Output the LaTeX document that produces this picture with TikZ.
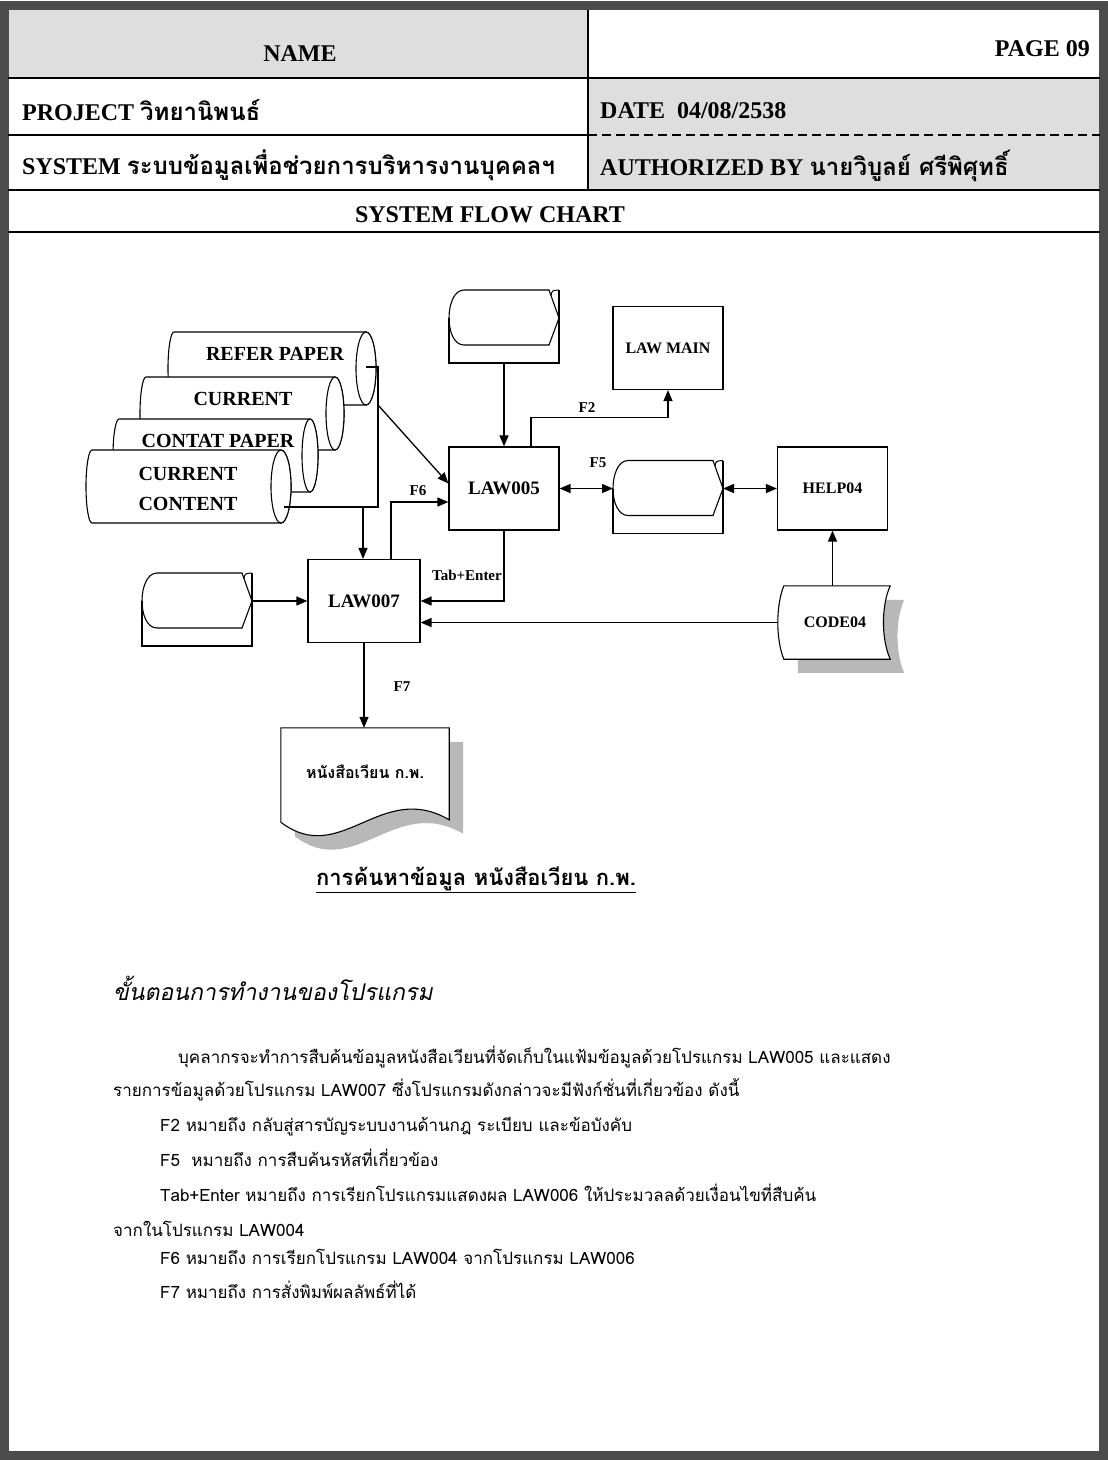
\documentclass[tikz,border=0pt]{standalone}
\usepackage{fontspec}
\setmainfont{Liberation Serif}
\newfontfamily\thaifont[Script=Thai]{Loma}
\newfontfamily\thaislant[Script=Thai,FakeSlant=0.2]{Loma}
\usetikzlibrary{arrows.meta,calc}

\newcommand{\fsz}[1]{\fontsize{#1}{#1}\selectfont}

\tikzset{
  shade/.style={fill=black!13},
  rule/.style={line width=1.8pt},
  hdr/.style={font=\bfseries\fsz{24}, inner sep=0pt},
  prog/.style={draw, line width=1.2pt, minimum width=110pt, minimum height=83pt, inner sep=0pt, font=\bfseries\fsz{19}},
  drum/.style={draw, fill=white, line width=1.1pt},
  drumtxt/.style={font=\bfseries\fsz{20}, inner sep=0pt},
  flow/.style={line width=1.3pt, -{Triangle[length=11pt,width=9pt]}},
  both/.style={line width=1.3pt, {Triangle[length=11pt,width=9pt]}-{Triangle[length=11pt,width=9pt]}},
  fkey/.style={font=\bfseries\fsz{15}, inner sep=0pt},
  para/.style={font=\thaifont\fsz{17}, anchor=base west, inner sep=0pt},
  dispstore/.pic={
    \draw[line width=1.1pt] (-55,-8.5) -- (-55,36.5) -- (55,36.5) -- (55,-36.5); % caja
    \draw[line width=1.1pt] (-40,-36.5) -- (45,-36.5) -- (55,-8.5) -- (45,18.5) -- (-40,18.5)
      .. controls (-50,18.5) and (-55,5) .. (-55,-8.5) .. controls (-55,-22) and (-50,-36.5) .. (-40,-36.5); % pantalla
    \draw[line width=1pt] (47,-31) .. controls (48,-36) .. (55,-36.5); % pestana
    \coordinate (-l) at (-55,-8.5);
    \coordinate (-r) at (55,-8.5);
    \coordinate (-n) at (0,-36.5);
    \coordinate (-s) at (0,36.5);
  }
}

\begin{document}
\begin{tikzpicture}[x=1pt,y=-1pt]
\fill[white] (0,0) rectangle (1108,1460); % hoja
\fill[shade] (8,10) rectangle (588,78); % celda NAME
\fill[shade] (588,78) rectangle (1100,190); % celdas DATE y AUTHORIZED
\draw[line width=9pt, black!70] (4.5,5) rectangle (1103.5,1455.5); % marco
\draw[rule] (8,78) -- (1100,78);
\draw[rule] (8,135) -- (588,135);
\draw[rule, dashed, dash pattern=on 9pt off 5pt] (588,135) -- (1100,135);
\draw[rule] (8,190) -- (1100,190);
\draw[rule] (8,232) -- (1100,232);
\draw[rule] (588,10) -- (588,190);
\node[hdr, anchor=base] (name) at (300,61) {NAME};
\node[hdr, anchor=base east] (page) at (1090,56) {PAGE 09};
\node[hdr, anchor=base west] (proj) at (22,120) {PROJECT {\thaifont วิทยานิพนธ์}};
\node[hdr, anchor=base west] (date) at (600,118) {DATE\ \ 04/08/2538};
\node[hdr, anchor=base west] (sys) at (22,174) {SYSTEM {\thaifont ระบบข้อมูลเพื่อช่วยการบริหารงานบุคคลฯ}};
\node[hdr, anchor=base west] (auth) at (600,175) {AUTHORIZED BY {\thaifont นายวิบูลย์ ศรีพิศุทธิ์}};
\node[hdr, anchor=base] (sfc) at (490,222) {SYSTEM FLOW CHART};

% cilindros (de atras hacia adelante)
\filldraw[drum] (366,332) -- (174,332) arc[start angle=270, end angle=90, x radius=6, y radius=36.5] -- (366,405) arc[start angle=90, end angle=-90, x radius=10, y radius=36.5] -- cycle;
\draw[drum] (366,368.5) ellipse[x radius=10, y radius=36.5];
\node[drumtxt] (refer) at (275,354) {REFER PAPER};
\filldraw[drum] (335,377) -- (146,377) arc[start angle=270, end angle=90, x radius=6, y radius=36.5] -- (335,450) arc[start angle=90, end angle=-90, x radius=9, y radius=36.5] -- cycle;
\draw[drum] (335,413.5) ellipse[x radius=9, y radius=36.5];
\node[drumtxt] (curr) at (243,399) {CURRENT};
\filldraw[drum] (310,419) -- (119,419) arc[start angle=270, end angle=90, x radius=6, y radius=36.5] -- (310,492) arc[start angle=90, end angle=-90, x radius=8, y radius=36.5] -- cycle;
\draw[drum] (310,455.5) ellipse[x radius=8, y radius=36.5];
\node[drumtxt] (contat) at (218,441) {CONTAT PAPER};
\filldraw[drum] (281,450) -- (92,450) arc[start angle=270, end angle=90, x radius=6, y radius=36.5] -- (281,523) arc[start angle=90, end angle=-90, x radius=10, y radius=36.5] -- cycle;
\draw[drum] (281,486.5) ellipse[x radius=10, y radius=36.5];
\node[drumtxt, align=center] (ccont) at (188,489) {CURRENT\\[10pt]CONTENT};

% procesos
\node[prog] (law5) at (504,488.5) {LAW005};
\node[prog, font=\bfseries\fsz{16}] (lawmain) at (668,348) {LAW MAIN};
\node[prog, font=\bfseries\fsz{16}] (help) at (832.5,488.5) {HELP04};
\node[prog, minimum width=112pt] (law7) at (364,601) {LAW007};
\pic (dtop) at (504,326.5) {dispstore};
\pic (dmid) at (668,497) {dispstore};
\pic (dleft) at (197,609.5) {dispstore};

% CODE04
\node[minimum width=110pt, minimum height=73pt, inner sep=0pt, font=\bfseries\fsz{16}] (code) at (835,622.5) {CODE04};
\fill[black!28] ($(code.north west)+(18,14)$) -- ($(code.north east)+(14,14)$) .. controls ($(code.north east)+(5,34)$) and ($(code.north east)+(5,67)$) .. ($(code.north east)+(14,87)$) -- ($(code.north west)+(18,87)$) -- cycle; % sombra
\filldraw[fill=white, line width=1.1pt] ($(code.north west)+(4,0)$) -- (code.north east) .. controls ($(code.north east)+(-9,20)$) and ($(code.north east)+(-9,53)$) .. (code.south east) -- ($(code.south west)+(4,0)$) .. controls ($(code.south west)+(-4,-20)$) and ($(code.north west)+(-4,20)$) .. ($(code.north west)+(4,0)$);
\node[font=\bfseries\fsz{16}] (codetxt) at (code) {CODE04};
\coordinate (code-l) at ($(code.west)+(-2,0)$);

% documento
\node[minimum width=168pt, minimum height=94pt, inner sep=0pt] (rpt) at (365,775) {};
\fill[black!28] ($(rpt.north west)+(14,14)$) -- ($(rpt.north east)+(14,14)$) -- ($(rpt.north east)+(14,106)$) .. controls ($(rpt.north west)+(114,66)$) and ($(rpt.north west)+(74,154)$) .. ($(rpt.south west)+(14,14)$) -- cycle; % sombra
\filldraw[fill=white, line width=1.1pt] (rpt.north west) -- (rpt.north east) -- ($(rpt.north east)+(0,92)$) .. controls ($(rpt.north west)+(100,52)$) and ($(rpt.north west)+(60,140)$) .. (rpt.south west) -- cycle;
\node[font=\thaifont\bfseries\fsz{16}] (rpttxt) at (365,772) {หนังสือเวียน ก.พ.};

% conexiones
\coordinate (refout) at (366,367);
\coordinate (rcorner) at (378,367);
\coordinate (brk) at (378,507);
\coordinate (ccout) at (284,507);
\coordinate (dtap) at (378,405);
\coordinate (dtap2) at (363,507);
\draw[line width=1.1pt] (refout) -- (rcorner) -- (brk) -- (ccout); % union de archivos
\draw[flow] (dtap) -- ([yshift=5pt]law5.west);
\draw[flow] (dtap2) -- (law7.north -| dtap2);
\draw[flow] (dtop-s) -- (law5.north);
\draw[flow] ([xshift=27pt]law5.north) -- ++(0,-29) -| (lawmain.south);
\draw[both] (law5.east) -- (law5.east -| dmid-l);
\draw[both] (dmid-r) -- (dmid-r -| help.west);
\draw[flow] (law5.south) |- (law7.east);
\draw[flow] ([xshift=27pt]law7.north) |- ([yshift=-13.5pt]law5.west);
\draw[flow] (dleft-r) -- (dleft-r -| law7.west);
\draw[flow] (code-l) -- (code-l -| law7.east);
\draw[flow] (code.north -| help.south) -- (help.south);
\draw[flow] (law7.south) -- (law7.south |- rpt.north);
\node[fkey] (kf2) at (587,408) {F2};
\node[fkey] (kf5) at (598,463) {F5};
\node[fkey] (kf6) at (418,491) {F6};
\node[fkey] (kf7) at (402,687) {F7};
\node[fkey, anchor=east] (ktab) at (502,575) {Tab+Enter};

% texto
\node[font=\thaifont\bfseries\fsz{22}, anchor=base] (cap) at (476,885) {\underline{การค้นหาข้อมูล หนังสือเวียน ก.พ.}};
\node[font=\thaislant\fsz{23}, anchor=base west, inner sep=2pt] (steps) at (111,1000) {ขั้นตอนการทำงานของโปรแกรม};
\node[para] (l1) at (178,1063) {บุคลากรจะทำการสืบค้นข้อมูลหนังสือเวียนที่จัดเก็บในแฟ้มข้อมูลด้วยโปรแกรม LAW005 และแสดง};
\node[para] (l2) at (113,1096) {รายการข้อมูลด้วยโปรแกรม LAW007 ซึ่งโปรแกรมดังกล่าวจะมีฟังก์ชั่นที่เกี่ยวข้อง ดังนี้};
\node[para] (l3) at (160,1131) {F2 หมายถึง กลับสู่สารบัญระบบงานด้านกฎ ระเบียบ และข้อบังคับ};
\node[para] (l4) at (160,1166) {F5\ \ หมายถึง การสืบค้นรหัสที่เกี่ยวข้อง};
\node[para] (l5) at (160,1201) {Tab+Enter หมายถึง การเรียกโปรแกรมแสดงผล LAW006 ให้ประมวลลด้วยเงื่อนไขที่สืบค้น};
\node[para] (l6) at (113,1236) {จากในโปรแกรม LAW004};
\node[para] (l7) at (160,1264) {F6 หมายถึง การเรียกโปรแกรม LAW004 จากโปรแกรม LAW006};
\node[para] (l8) at (160,1298) {F7 หมายถึง การสั่งพิมพ์ผลลัพธ์ที่ได้};
\end{tikzpicture}
\end{document}
